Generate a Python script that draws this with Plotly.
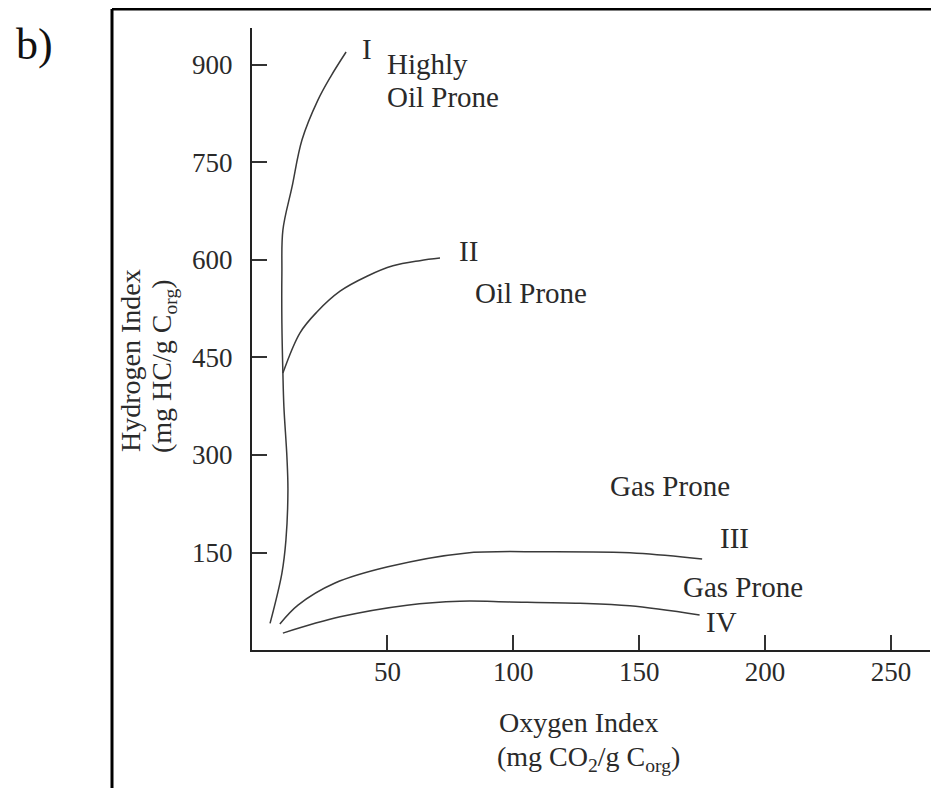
import plotly.graph_objects as go

# Curve data (Oxygen Index, Hydrogen Index)
type1_oi = [3.4, 8.1, 9.7, 10.5, 10.1, 8.9, 8.5, 8.1, 8.1, 8.5, 12.1, 16.1, 22.4, 27.6, 33.6]
type1_hi = [41, 118, 169, 246, 297, 374, 426, 503, 580, 646, 712, 785, 846, 883, 920]

type2_oi = [8.5, 15.3, 22.0, 31.2, 41.9, 52.2, 62.9, 70.9]
type2_hi = [426, 488, 520, 552, 575, 591, 599, 603]

type3_oi = [7.3, 14.5, 29.2, 50.2, 80.8, 113, 149, 175]
type3_hi = [40, 69, 103, 128, 149, 151, 149, 140]

type4_oi = [8.5, 31.2, 57.8, 78.8, 98.7, 126.5, 146.3, 174]
type4_hi = [26, 51, 69, 75, 74, 72, 68, 54]

x_ticks = [50, 100, 150, 200, 250]
y_ticks = [150, 300, 450, 600, 750, 900]

FONT = "Liberation Serif, Times New Roman, serif"
TXT = "#2a2a2a"
LINE = "#3a3a3a"
BODY = 8  # default page margin of the html body


def PX(xp):
    return (xp - 252) / 678


def PY(yp):
    return (650 - yp) / 622


fig = go.Figure()
for xs, ys in [(type1_oi, type1_hi), (type2_oi, type2_hi), (type3_oi, type3_hi), (type4_oi, type4_hi)]:
    fig.add_trace(go.Scatter(x=xs, y=ys, mode="lines",
                             line=dict(color=LINE, width=1.5, shape="spline", smoothing=1.0),
                             showlegend=False, hoverinfo="skip"))

labels = [
    ("I", 41.9, 925, "center"),
    ("Highly", 49.0, 902, "left"),
    ("Oil Prone", 49.0, 850, "left"),
    ("II", 82.4, 614, "center"),
    ("Oil Prone", 107, 549, "center"),
    ("Gas Prone", 162.2, 252, "center"),
    ("III", 188, 172, "center"),
    ("Gas Prone", 191.2, 97, "center"),
    ("IV", 182.5, 43, "center"),
]
for t, x, y, anc in labels:
    fig.add_annotation(x=x, y=y, text=t, showarrow=False, xanchor=anc, yanchor="middle",
                       font=dict(family=FONT, size=29, color=TXT))

# axis titles
fig.add_annotation(xref="paper", yref="paper", x=PX(130), y=PY(360),
                   text="Hydrogen Index", textangle=-90, showarrow=False,
                   xanchor="center", yanchor="middle", font=dict(family=FONT, size=28, color=TXT))
fig.add_annotation(xref="paper", yref="paper", x=PX(163), y=PY(366),
                   text="(mg HC/g C<sub>org</sub>)", textangle=-90, showarrow=False,
                   xanchor="center", yanchor="middle", font=dict(family=FONT, size=28, color=TXT))
fig.add_annotation(xref="paper", yref="paper", x=PX(578), y=PY(722),
                   text="Oxygen Index", showarrow=False,
                   xanchor="center", yanchor="middle", font=dict(family=FONT, size=28, color=TXT))
fig.add_annotation(xref="paper", yref="paper", x=PX(588), y=PY(758),
                   text="(mg CO<sub>2</sub>/g C<sub>org</sub>)", showarrow=False,
                   xanchor="center", yanchor="middle", font=dict(family=FONT, size=28, color=TXT))
fig.add_annotation(xref="paper", yref="paper", x=PX(34), y=PY(45),
                   text="b)", showarrow=False,
                   xanchor="center", yanchor="middle", font=dict(family=FONT, size=44, color="#111"))

# outer frame (left and top)
fx = PX(112)
fy = PY(9)
fig.add_shape(type="line", xref="paper", yref="paper", x0=fx, y0=fy, x1=PX(940), y1=fy,
              line=dict(color="black", width=3))
fig.add_shape(type="line", xref="paper", yref="paper", x0=fx, y0=fy, x1=fx, y1=PY(790),
              line=dict(color="black", width=3))

fig.update_layout(
    width=939 - BODY, height=788 - BODY,
    margin=dict(l=252 - BODY, r=9, t=28 - BODY, b=138),
    paper_bgcolor="white", plot_bgcolor="white",
    font=dict(family=FONT, color=TXT),
    xaxis=dict(range=[-3.77, 265.5], tickvals=x_ticks, ticks="inside", ticklen=15, tickwidth=2,
               tickcolor="#333", showline=True, linecolor="#222", linewidth=2, showgrid=False,
               zeroline=False, tickfont=dict(family=FONT, size=27, color=TXT), ticklabelstandoff=-3),
    yaxis=dict(range=[0, 956.9], tickvals=y_ticks, ticks="inside", ticklen=15, tickwidth=2,
               tickcolor="#333", showline=True, linecolor="#222", linewidth=2, showgrid=False,
               zeroline=False, tickfont=dict(family=FONT, size=27, color=TXT), ticklabelstandoff=12),
)

fig.write_html("out.html")
